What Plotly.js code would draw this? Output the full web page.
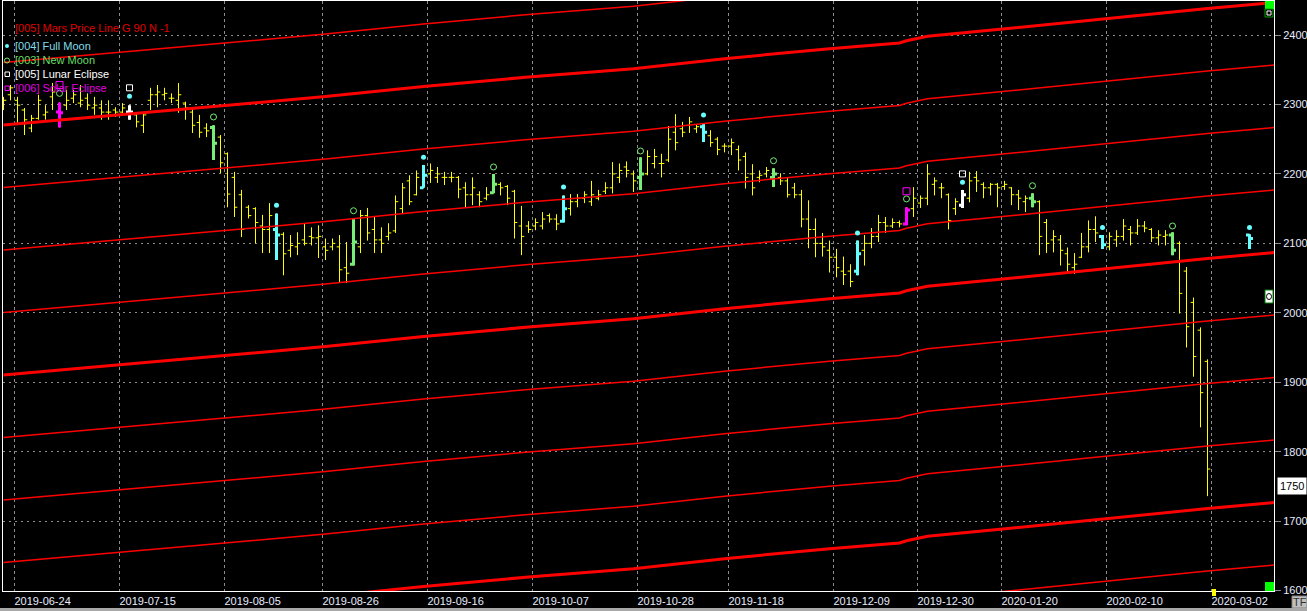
<!DOCTYPE html>
<html>
<head>
<meta charset="utf-8">
<script src="https://cdn.plot.ly/plotly-3.0.1.min.js"></script>
<style>
html,body{margin:0;padding:0;background:#000;overflow:hidden;}
#chart{width:1307px;height:611px;}
</style>
</head>
<body>
<div id="chart"></div>
<script>
// ---------- categories (trading days) ----------
const dates = [
'2019-06-20','2019-06-21','2019-06-24','2019-06-25','2019-06-26','2019-06-27','2019-06-28','2019-07-01','2019-07-02','2019-07-03',
'2019-07-04','2019-07-05','2019-07-08','2019-07-09','2019-07-10','2019-07-11','2019-07-12','2019-07-15','2019-07-16','2019-07-17',
'2019-07-18','2019-07-19','2019-07-22','2019-07-23','2019-07-24','2019-07-25','2019-07-26','2019-07-29','2019-07-30','2019-07-31',
'2019-08-01','2019-08-02','2019-08-05','2019-08-06','2019-08-07','2019-08-08','2019-08-09','2019-08-13','2019-08-14','2019-08-15',
'2019-08-16','2019-08-19','2019-08-20','2019-08-21','2019-08-22','2019-08-23','2019-08-26','2019-08-27','2019-08-28','2019-08-29',
'2019-08-30','2019-09-02','2019-09-03','2019-09-04','2019-09-05','2019-09-06','2019-09-09','2019-09-10','2019-09-11','2019-09-12',
'2019-09-13','2019-09-16','2019-09-17','2019-09-18','2019-09-19','2019-09-20','2019-09-23','2019-09-24','2019-09-25','2019-09-26',
'2019-09-27','2019-09-30','2019-10-01','2019-10-02','2019-10-03','2019-10-04','2019-10-07','2019-10-08','2019-10-09','2019-10-10',
'2019-10-11','2019-10-14','2019-10-15','2019-10-16','2019-10-17','2019-10-18','2019-10-21','2019-10-22','2019-10-23','2019-10-24',
'2019-10-25','2019-10-28','2019-10-29','2019-10-30','2019-10-31','2019-11-04','2019-11-05','2019-11-06','2019-11-07','2019-11-08',
'2019-11-12','2019-11-13','2019-11-14','2019-11-15','2019-11-18','2019-11-19','2019-11-20','2019-11-21','2019-11-22','2019-11-25',
'2019-11-26','2019-11-27','2019-11-28','2019-11-29','2019-12-02','2019-12-03','2019-12-04','2019-12-05','2019-12-06','2019-12-09',
'2019-12-10','2019-12-11','2019-12-12','2019-12-13','2019-12-16','2019-12-17','2019-12-18','2019-12-19','2019-12-20','2019-12-26',
'2019-12-27','2019-12-30','2020-01-03','2020-01-06','2020-01-07','2020-01-08','2020-01-09','2020-01-10','2020-01-13','2020-01-14',
'2020-01-15','2020-01-16','2020-01-17','2020-01-20','2020-01-21','2020-01-22','2020-01-23','2020-01-24','2020-01-27','2020-01-28',
'2020-01-29','2020-01-30','2020-01-31','2020-02-03','2020-02-04','2020-02-05','2020-02-06','2020-02-07','2020-02-10','2020-02-11',
'2020-02-12','2020-02-13','2020-02-14','2020-02-17','2020-02-18','2020-02-19','2020-02-20','2020-02-21','2020-02-24','2020-02-25',
'2020-02-26','2020-02-27','2020-02-28','2020-03-02','2020-03-03','2020-03-04','2020-03-05','2020-03-06','2020-03-09','2020-03-10',
'2020-03-11','2020-03-12','2020-03-13'
];

// ---------- OHLC series (aligned with dates; nulls = no bar) ----------
const openP = [
2295,2314,2306,2292,2266,2280,2285,2311,2289,2299,
2309,2302,2309,2295,2295,2289,2292,2289,2289,2285,
2270,2306,2314,2314,2309,2306,2302,2289,2274,2266,
2267,2253,2229,2195,2170,2152,2150,2125,2120,2120,
2113,2090,2095,2105,2110,2108,2095,2095,2095,2065,
2070,2095,2140,2120,2105,2110,2118,2150,2190,2170,
2180,2200,2195,2195,2195,2195,2180,2170,2170,2165,
2173,2185,2182,2175,2125,2125,2125,2125,2140,2135,
2132,2150,2160,2165,2160,2165,2175,2180,2195,2210,
2200,2195,2200,2215,2215,2220,2260,2265,2270,2265,
2268,2255,2250,2240,2240,2235,2225,2200,2195,2200,
2195,2195,2190,2180,2170,2135,2120,2100,2090,2080,
2060,2060,2060,2090,2100,2110,2130,2125,2130,2128,
2150,2158,2165,2185,2180,2170,2150,2155,2165,2195,
2185,2180,2185,2182,2180,2170,2160,2165,2160,2130,
2105,2105,2085,2065,2080,2095,2120,2110,2095,2105,
2110,2120,2115,2125,2120,2108,2110,2112,2100,2060,
2015,1975,1930,null,null,null,null,null,2112
];
const highP = [
2311,2328,2311,2295,2285,2314,2299,2331,2303,2321,
2321,2328,2316,2311,2306,2306,2296,2302,2299,2289,
2288,2324,2328,2324,2316,2331,2304,2295,2285,2273,
2270,2256,2231,2203,2177,2155,2152,2141,2158,2143,
2116,2112,2116,2129,2123,2126,2107,2107,2112,2102,
2136,2148,2151,2138,2123,2129,2169,2187,2198,2205,
2213,2215,2210,2203,2203,2197,2188,2195,2175,2181,
2200,2188,2184,2177,2154,2132,2136,2145,2143,2142,
2169,2171,2171,2175,2190,2177,2188,2217,2215,2218,
2205,2224,2234,2236,2229,2269,2286,2275,2282,2272,
2273,2263,2253,2244,2251,2241,2231,2214,2205,2210,
2208,2201,2195,2187,2177,2162,2136,2115,2104,2092,
2081,2070,2104,2112,2122,2141,2138,2136,2133,2152,
2181,2169,2214,2195,2187,2172,2165,2177,2203,2204,
2188,2187,2187,2190,2181,2177,2169,2172,2162,2135,
2119,2112,2094,2086,2115,2133,2139,2112,2116,2119,
2135,2125,2135,2132,2122,2119,2119,2116,2103,2066,
2022,1979,1933,null,null,null,null,null,2113
];
const lowP = [
2292,2306,2273,2256,2260,2278,2278,2292,2267,2292,
2302,2296,2292,2285,2278,2278,2282,2285,2278,2267,
2259,2292,2296,2306,2302,2288,2278,2259,2252,2253,
2220,2201,2152,2138,2109,2136,2100,2086,2086,2076,
2054,2080,2083,2097,2097,2079,2076,2090,2044,2043,
2068,2086,2104,2086,2086,2104,2115,2143,2155,2169,
2180,2187,2187,2184,2188,2165,2152,2155,2152,2162,
2172,2169,2155,2107,2083,2115,2119,2120,2130,2119,
2130,2140,2152,2158,2154,2162,2171,2172,2187,2195,
2174,2177,2198,2208,2195,2217,2234,2253,2259,2259,
2246,2239,2227,2231,2227,2205,2179,2169,2188,2195,
2181,2184,2166,2165,2123,2093,2080,2081,2058,2051,
2040,2037,2054,2068,2093,2102,2115,2122,2123,2126,
2138,2151,2155,2169,2165,2120,2141,2151,2159,2174,
2165,2169,2152,2177,2155,2148,2145,2152,2083,2086,
2087,2068,2057,2056,2079,2087,2102,2092,2090,2095,
2104,2097,2112,2116,2102,2097,2097,2083,1999,1950,
1908,1835,1736,null,null,null,null,null,2092
];
const closeP = [
2306,2324,2299,2278,2280,2306,2289,2318,2288,2306,
2314,2306,2299,2299,2289,2289,2289,2295,2289,2275,
2285,2314,2318,2316,2309,2314,2295,2270,2260,2262,
2244,2216,2171,2152,2120,2140,2130,2120,2140,2112,
2085,2097,2100,2100,2108,2110,2090,2100,2062,2057,
2102,2140,2115,2105,2100,2115,2160,2180,2160,2195,
2198,2205,2200,2195,2195,2178,2170,2180,2160,2170,
2185,2180,2165,2130,2110,2120,2130,2135,2135,2128,
2150,2160,2165,2170,2170,2170,2180,2200,2205,2205,
2190,2200,2225,2225,2215,2250,2245,2260,2275,2268,
2260,2245,2235,2240,2245,2220,2195,2180,2198,2205,
2200,2190,2170,2170,2135,2120,2100,2095,2080,2065,
2055,2045,2085,2100,2110,2130,2125,2130,2128,2148,
2165,2165,2200,2190,2180,2133,2160,2170,2190,2190,
2180,2185,2180,2185,2170,2165,2165,2160,2110,2100,
2110,2090,2070,2070,2095,2120,2115,2098,2110,2110,
2125,2115,2125,2122,2108,2112,2112,2090,2028,1980,
1937,1885,1775,null,null,null,null,null,2107
];

// ---------- moon events (dates) and marker levels ----------
const fullMoonDates = ['2019-07-16','2019-08-15','2019-09-13','2019-10-11','2019-11-12','2019-12-12','2020-01-10','2020-02-07','2020-03-09'];
const fullMoonMarkY = [2312,2155,2224,2181,2285,2115,2188,2123,2123];
const newMoonDates = ['2019-07-02','2019-08-01','2019-08-30','2019-09-27','2019-10-28','2019-11-26','2019-12-26','2020-01-24','2020-02-21'];
const newMoonMarkY = [2316,2282,2147,2210,2233,2219,2164,2183,2125];
const lunarEclipseDates = ['2019-07-16','2020-01-10'];
const lunarEclipseMarkY = [2324,2200];
const solarEclipseDates = ['2019-07-02','2019-12-26'];
const solarEclipseMarkY = [2328,2175];

// ---------- Mars price line (base level, read at sample days) ----------
const marsDates = ['2019-06-20','2019-07-12','2019-08-02','2019-08-26','2019-09-13','2019-10-04','2019-10-25','2019-11-15','2019-12-06','2019-12-16','2019-12-20','2019-12-26','2019-12-27','2019-12-30','2020-01-03','2020-01-17','2020-02-10','2020-02-28','2020-03-13'];
const marsBase  = [2270.3,2284.3,2297.3,2311.4,2326.0,2339.5,2351.5,2366.0,2380.3,2385.8,2388.6,2391.8,2393.6,2395.6,2398.1,2407.8,2424.4,2438.1,2447.2];
const marsOffsets = [90,0,-90,-180,-270,-360,-450,-540,-630,-720,-810];

// ---------- axis labels ----------
const xTickLabels = ['2019-06-24','2019-07-15','2019-08-05','2019-08-26','2019-09-16','2019-10-07','2019-10-28','2019-11-18','2019-12-09','2019-12-30','2020-01-20','2020-02-10','2020-03-02'];
const yTickValues = [1600,1700,1800,1900,2000,2100,2200,2300,2400];
const lastPriceLabel = 1750;

// ---------- styling ----------
const YELLOW = '#ffff00', CYAN = '#66ffff', GREEN = '#77ee77', WHITE = '#ffffff', MAGENTA = '#ff00ff', RED = '#ff0000';
const FONT = 'Liberation Sans, Arial, sans-serif';

const barX = dates.slice(0, openP.length);
function pick(arr, ds) { return ds.map(d => arr[barX.indexOf(d)]); }
function ohlcTrace(ds, color, width, tw) {
  return {
    type: 'ohlc', x: ds,
    open: pick(openP, ds), high: pick(highP, ds), low: pick(lowP, ds), close: pick(closeP, ds),
    increasing: {line: {color: color, width: width}},
    decreasing: {line: {color: color, width: width}},
    tickwidth: tw, hoverinfo: 'skip', showlegend: false
  };
}

const traces = [];
marsOffsets.forEach(off => {
  const thick = (off % 360 === 0);
  traces.push({
    type: 'scatter', mode: 'lines', x: marsDates, y: marsBase.map(v => v + off),
    line: {color: RED, width: thick ? 3 : 1.5}, hoverinfo: 'skip', showlegend: false
  });
});
traces.push(ohlcTrace(barX, YELLOW, 1, 0.4));

const cyanDates = fullMoonDates.filter(d => lunarEclipseDates.indexOf(d) < 0);
const greenDates = newMoonDates.filter(d => solarEclipseDates.indexOf(d) < 0);
traces.push(ohlcTrace(cyanDates, CYAN, 3, 0.5));
traces.push(ohlcTrace(greenDates, GREEN, 3, 0.5));
traces.push(ohlcTrace(lunarEclipseDates, WHITE, 3, 0.5));
traces.push(ohlcTrace(solarEclipseDates, MAGENTA, 3, 0.5));

traces.push({type:'scatter', mode:'markers', x: fullMoonDates, y: fullMoonMarkY,
  marker:{symbol:'circle', size:5, color:CYAN}, hoverinfo:'skip', showlegend:false});
traces.push({type:'scatter', mode:'markers', x: newMoonDates, y: newMoonMarkY,
  marker:{symbol:'circle-open', size:6, color:GREEN, line:{width:1}}, hoverinfo:'skip', showlegend:false});
traces.push({type:'scatter', mode:'markers', x: lunarEclipseDates, y: lunarEclipseMarkY,
  marker:{symbol:'square-open', size:6, color:WHITE, line:{width:1}}, hoverinfo:'skip', showlegend:false});
traces.push({type:'scatter', mode:'markers', x: solarEclipseDates, y: solarEclipseMarkY,
  marker:{symbol:'square-open', size:7, color:MAGENTA, line:{width:1}}, hoverinfo:'skip', showlegend:false});

// ---------- layout geometry ----------
const W = 1307, H = 611, ML = 3, MR = 33, MT = 1, MB = 20;
const PW = W - ML - MR, PH = H - MT - MB;
const px = x => (x - ML) / PW;
const py = y => (H - MB - y) / PH;

const legendItems = [
  {text:'[005] Mars Price Line G 90 N -1', color:'#e00000', y:28},
  {text:'[004] Full Moon', color:'#80dcea', y:46},
  {text:'[003] New Moon', color:'#66dd66', y:60},
  {text:'[005] Lunar Eclipse', color:'#ffffff', y:74},
  {text:'[006] Solar Eclipse', color:'#e000e0', y:88}
];
const annotations = legendItems.map(it => ({
  xref:'paper', yref:'paper', x: px(13), y: py(it.y), xanchor:'left', yanchor:'middle',
  text: it.text, showarrow:false, font:{family:FONT, size:11, color:it.color}
}));
annotations.push({xref:'paper', yref:'y', x:1, xshift:3, y:lastPriceLabel, xanchor:'left', yanchor:'middle',
  text:String(lastPriceLabel), showarrow:false, bgcolor:'#ffffff', borderpad:2,
  font:{family:FONT, size:11, color:'#000000'}});
annotations.push({xref:'paper', yref:'paper', x:px(1299.5), y:py(602), xanchor:'center', yanchor:'middle',
  text:'TF', showarrow:false, font:{family:FONT, size:11, color:'#303030'}});

function rect(x0,y0,x1,y1,fill,lineColor,lw){
  return {type:'rect', xref:'paper', yref:'paper', x0:px(x0), x1:px(x1), y0:py(y1), y1:py(y0),
    fillcolor: fill || 'rgba(0,0,0,0)', line:{color: lineColor || 'rgba(0,0,0,0)', width: lw || 0}, layer:'above'};
}
function circ(x0,y0,x1,y1,fill,lineColor,lw){
  const s = rect(x0,y0,x1,y1,fill,lineColor,lw); s.type='circle'; return s;
}
const shapes = [
  rect(1265,1,1274,9,'#00ff00'),
  rect(1265,9,1273,17,'#000000','#00a000',1),
  rect(1267,11,1271,15,null,'#ffffff',1),
  rect(1265,290,1273,303,'#ffffff','#008000',1),
  circ(1266.5,293.5,1271.5,299.5,null,'#000000',1),
  rect(1265,582,1274,591,'#00ff00'),
  rect(1212,589,1216,596,'#ffff00'),
  rect(1292,596,1307,608,'#c0c0c0','#808080',1),
  rect(0,608,1307,611,'#a8a8a8'),
  circ(5,44,9,48,CYAN),
  circ(4.5,58,9.5,63,null,GREEN,1),
  rect(5,72,9.5,76.5,null,WHITE,1),
  rect(5,86,9.5,90.5,null,MAGENTA,1)
];

const xTickPos = xTickLabels.map(d => dates.indexOf(d) - 0.5);

const layout = {
  width: W, height: H,
  margin: {l:ML, r:MR, t:MT, b:MB, pad:0},
  paper_bgcolor:'#000000', plot_bgcolor:'#000000',
  showlegend:false, hovermode:false,
  font:{family:FONT, size:11, color:'#e8ecff'},
  xaxis:{
    type:'category', categoryorder:'array', categoryarray: dates,
    range:[-0.0714, 181.5], autorange:false, fixedrange:true,
    rangeslider:{visible:false},
    tickmode:'array', tickvals: xTickPos, ticktext: xTickLabels,
    ticks:'', ticklabelposition:'outside right',
    tickfont:{family:FONT, size:11, color:'#e8ecff'},
    showgrid:true, gridcolor:'#8c8c8c', gridwidth:1, griddash:'3px,3px',
    showline:true, linecolor:'#ffffff', linewidth:1, mirror:true, zeroline:false
  },
  yaxis:{
    side:'right', range:[1599.4, 2449], autorange:false, fixedrange:true,
    tickmode:'array', tickvals: yTickValues, ticktext: yTickValues.map(String),
    ticks:'outside', ticklen:6, tickcolor:'#8c8c8c', tickwidth:1,
    tickfont:{family:FONT, size:11, color:'#e8ecff'},
    showgrid:true, gridcolor:'#8c8c8c', gridwidth:1, griddash:'2px,4px',
    showline:true, linecolor:'#ffffff', linewidth:1, mirror:true, zeroline:false
  },
  annotations: annotations,
  shapes: shapes
};

Plotly.newPlot('chart', traces, layout, {staticPlot:true, displayModeBar:false});
</script>
</body>
</html>
